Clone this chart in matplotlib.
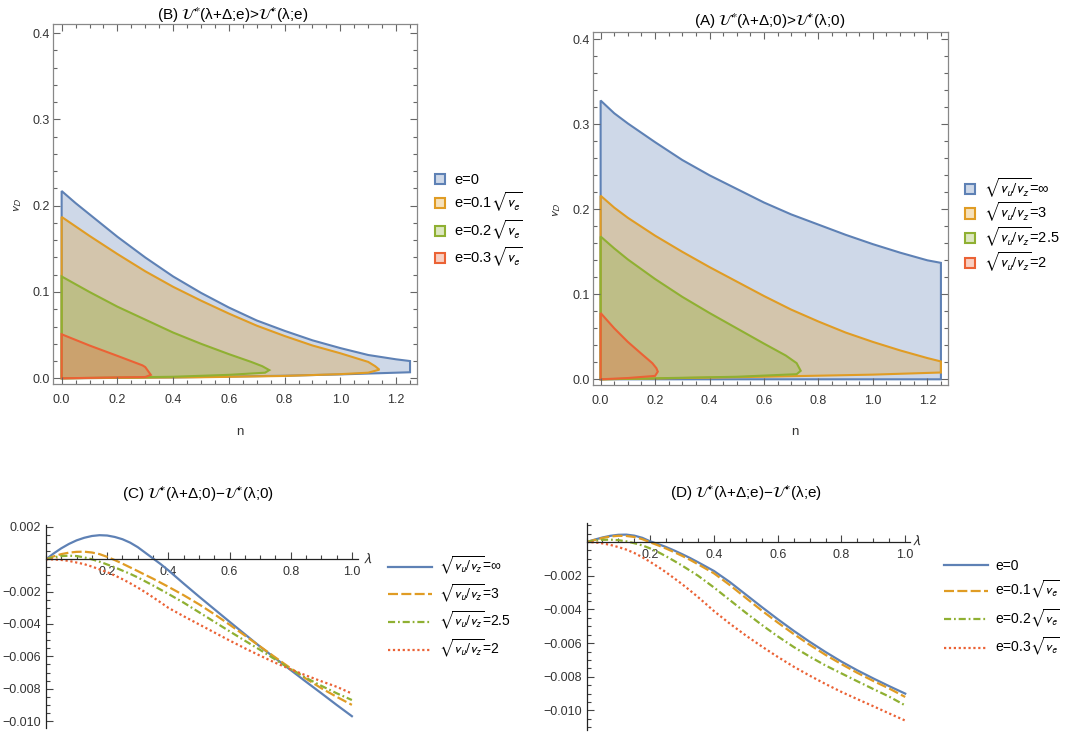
import numpy as np
import matplotlib.pyplot as plt
from matplotlib.colors import to_rgba
from matplotlib.ticker import MultipleLocator, FixedLocator, FuncFormatter

plt.rcParams['font.family'] = ['Liberation Sans', 'DejaVu Sans']
plt.rcParams['mathtext.fontset'] = 'stixsans'

colors = ['#5E81B5', '#E09C24', '#8FB032', '#EB6235']

# ---------- (B) regions, e = 0, 0.1, 0.2, 0.3 sqrt(v_e)
b_labels = ['e=0', r'e=0.1$\sqrt{v_e}$', r'e=0.2$\sqrt{v_e}$', r'e=0.3$\sqrt{v_e}$']
b_up_x = [[0, 0.05, 0.1, 0.2, 0.3, 0.4, 0.5, 0.6, 0.7, 0.8, 0.9, 1.0, 1.1, 1.2, 1.25],
          [0, 0.05, 0.1, 0.2, 0.3, 0.4, 0.5, 0.6, 0.7, 0.8, 0.9, 1.0, 1.05, 1.1, 1.125, 1.14],
          [0, 0.05, 0.1, 0.2, 0.3, 0.4, 0.5, 0.6, 0.68, 0.72, 0.745],
          [0, 0.1, 0.2, 0.29, 0.3, 0.32]]
b_up_y = [[0.217, 0.203, 0.190, 0.164, 0.140, 0.118, 0.099, 0.082, 0.067, 0.055, 0.044, 0.035, 0.027, 0.022, 0.020],
          [0.187, 0.176, 0.165, 0.144, 0.124, 0.106, 0.090, 0.075, 0.061, 0.049, 0.038, 0.029, 0.024, 0.019, 0.014, 0.010],
          [0.118, 0.109, 0.100, 0.083, 0.068, 0.053, 0.040, 0.028, 0.019, 0.014, 0.0095],
          [0.051, 0.038, 0.026, 0.015, 0.013, 0.004]]
b_lo_x = [[0, 0.4, 0.8, 1.0, 1.25],
          [0, 0.5, 0.8, 1.0, 1.1, 1.14],
          [0, 0.4, 0.6, 0.73, 0.745],
          [0, 0.3, 0.32]]
b_lo_y = [[0, 0.0010, 0.0030, 0.0045, 0.0070],
          [0, 0.0012, 0.0027, 0.0048, 0.0065, 0.010],
          [0, 0.0018, 0.0040, 0.0065, 0.0095],
          [0, 0.0015, 0.004]]

# ---------- (A) regions, sqrt(v_u/v_z) = inf, 3, 2.5, 2
a_labels = [r'$\sqrt{v_u/v_z}$=∞', r'$\sqrt{v_u/v_z}$=3',
            r'$\sqrt{v_u/v_z}$=2.5', r'$\sqrt{v_u/v_z}$=2']
a_up_x = [[0, 0.05, 0.1, 0.2, 0.3, 0.4, 0.5, 0.6, 0.7, 0.8, 0.9, 1.0, 1.1, 1.2, 1.25],
          [0, 0.05, 0.1, 0.2, 0.3, 0.4, 0.5, 0.6, 0.7, 0.8, 0.9, 1.0, 1.1, 1.2, 1.25],
          [0, 0.05, 0.1, 0.2, 0.3, 0.4, 0.5, 0.6, 0.68, 0.72, 0.735],
          [0, 0.05, 0.1, 0.15, 0.19, 0.205, 0.21]]
a_up_y = [[0.328, 0.313, 0.301, 0.279, 0.258, 0.240, 0.224, 0.208, 0.194, 0.182, 0.170, 0.159, 0.149, 0.140, 0.137],
          [0.216, 0.202, 0.190, 0.169, 0.150, 0.132, 0.115, 0.098, 0.082, 0.068, 0.055, 0.044, 0.034, 0.025, 0.021],
          [0.168, 0.154, 0.141, 0.118, 0.097, 0.078, 0.060, 0.042, 0.028, 0.019, 0.010],
          [0.078, 0.060, 0.044, 0.030, 0.019, 0.013, 0.009]]
a_lo_x = [[0, 1.25],
          [0, 0.6, 1.0, 1.25],
          [0, 0.25, 0.5, 0.72, 0.735],
          [0, 0.1, 0.2, 0.21]]
a_lo_y = [[0, 0],
          [0, 0.003, 0.0055, 0.008],
          [0, 0.0015, 0.003, 0.006, 0.010],
          [0, 0.0015, 0.004, 0.009]]

# ---------- (C) and (D) curves
lam = [0, 0.025, 0.05, 0.075, 0.1, 0.125, 0.15, 0.175, 0.2, 0.225, 0.25, 0.275, 0.3,
       0.325, 0.35, 0.375, 0.4, 0.45, 0.5, 0.55, 0.6, 0.65, 0.7, 0.75, 0.8, 0.85, 0.9, 0.95, 1.0]
c_vals = [
    [0, 0.00036, 0.00068, 0.00095, 0.00117, 0.00133, 0.00144, 0.00149, 0.00147, 0.00138, 0.00124,
     0.00103, 0.00075, 0.0004, 0.00005, -0.0003, -0.00068,
     -0.0015, -0.0023, -0.00308, -0.00386, -0.00463, -0.0054, -0.00612, -0.00685, -0.00757, -0.00828, -0.009, -0.0097],
    [0, 0.00018, 0.00032, 0.00041, 0.00046, 0.00047, 0.00042, 0.00032, 0.00015, -0.00005, -0.00027,
     -0.0005, -0.00073, -0.00097, -0.0012, -0.00145, -0.0017,
     -0.00222, -0.00278, -0.00339, -0.00404, -0.00471, -0.00539, -0.00607, -0.00674, -0.00738, -0.00797, -0.0085, -0.0090],
    [0, 0.00012, 0.0002, 0.00022, 0.0002, 0.00012, 0.0, -0.00015, -0.00032, -0.0005, -0.0007,
     -0.0009, -0.00112, -0.00137, -0.00162, -0.00188, -0.00214,
     -0.00268, -0.00327, -0.00386, -0.00445, -0.00503, -0.0056, -0.0062, -0.0068, -0.00733, -0.00782, -0.00828, -0.0087],
    [0, -0.00001, -0.00004, -0.0001, -0.0002, -0.0003, -0.00045, -0.00062, -0.0008, -0.001, -0.00123,
     -0.00148, -0.00175, -0.00204, -0.00235, -0.00267, -0.003,
     -0.00352, -0.00402, -0.00452, -0.00502, -0.0055, -0.00596, -0.0064, -0.0068, -0.00718, -0.00754, -0.00788, -0.0083]]
d_vals = [
    [0, 0.00014, 0.00027, 0.00037, 0.00043, 0.00044, 0.00038, 0.00025, 0.00004, -0.00012, -0.0003,
     -0.0005, -0.00072, -0.00095, -0.0012, -0.00146, -0.00172,
     -0.00238, -0.00312, -0.00386, -0.00458, -0.00527, -0.00592, -0.00653, -0.0071, -0.00762, -0.0081, -0.00856, -0.0090],
    [0, 0.00012, 0.00024, 0.00033, 0.00037, 0.00036, 0.0003, 0.00017, -0.00002, -0.0002, -0.00039,
     -0.0006, -0.00082, -0.00106, -0.00132, -0.00159, -0.00186,
     -0.00256, -0.00332, -0.00407, -0.00478, -0.00546, -0.0061, -0.0067, -0.00725, -0.00777, -0.00825, -0.0087, -0.0092],
    [0, 0.00008, 0.00013, 0.00014, 0.00011, 0.00004, -0.00007, -0.0002, -0.00038, -0.0006, -0.00085,
     -0.00112, -0.0014, -0.0017, -0.002, -0.00235, -0.0027,
     -0.00345, -0.0042, -0.00492, -0.0056, -0.00623, -0.0068, -0.00733, -0.0078, -0.00827, -0.00873, -0.00918, -0.0097],
    [0, -0.00002, -0.00008, -0.00017, -0.0003, -0.00045, -0.00065, -0.0009, -0.00118, -0.00148, -0.0018,
     -0.00215, -0.0025, -0.00288, -0.00327, -0.00368, -0.0041,
     -0.00485, -0.00555, -0.0062, -0.00682, -0.0074, -0.00793, -0.00843, -0.0089, -0.00933, -0.00975, -0.01018, -0.0106]]
c_labels = a_labels
d_labels = b_labels

styles = [dict(ls='-'), dict(dashes=(4.5, 1.5)),
          dict(dashes=(3.2, 1.3, 0.8, 1.3)), dict(dashes=(1.0, 1.2))]

W, H = 1070, 736
fig = plt.figure(figsize=(W / 100, H / 100), dpi=100)
tc = '#333333'


def fmt(decimals):
    return FuncFormatter(lambda v, p: f'{v:.{decimals}f}'.replace('-', '\u2212'))


def frame_axes(rect, xlim, ylim):
    ax = fig.add_axes(rect)
    ax.set_xlim(*xlim)
    ax.set_ylim(*ylim)
    ax.xaxis.set_major_locator(MultipleLocator(0.2))
    ax.xaxis.set_minor_locator(MultipleLocator(0.05))
    ax.yaxis.set_major_locator(MultipleLocator(0.1))
    ax.yaxis.set_minor_locator(MultipleLocator(0.02))
    ax.xaxis.set_major_formatter(fmt(1))
    ax.yaxis.set_major_formatter(fmt(1))
    ax.tick_params(which='both', direction='in', top=True, right=True,
                   labelsize=9, labelcolor=tc, color='#666666', width=0.8)
    ax.tick_params(which='major', length=5)
    ax.tick_params(which='minor', length=3)
    ax.tick_params(axis='x', pad=7.5)
    ax.tick_params(axis='y', pad=2)
    for s in ax.spines.values():
        s.set_color('#888888')
        s.set_linewidth(0.9)
    return ax


def region(ax, ux, uy, lx, ly, c, label):
    x = list(ux) + list(lx)[::-1]
    y = list(uy) + list(ly)[::-1]
    return ax.fill(x, y, facecolor=to_rgba(c, 0.3), edgecolor=c, lw=1.5, label=label)[0]


def curve_axes(rect, xlim, ylim, yticks):
    ax = fig.add_axes(rect)
    ax.set_xlim(*xlim)
    ax.set_ylim(*ylim)
    for s in ['top', 'right']:
        ax.spines[s].set_visible(False)
    ax.spines['left'].set_position(('data', 0))
    ax.spines['bottom'].set_position(('data', 0))
    for s in ['left', 'bottom']:
        ax.spines[s].set_color('#222222')
        ax.spines[s].set_linewidth(0.9)
    ax.xaxis.set_major_locator(FixedLocator([0.2, 0.4, 0.6, 0.8, 1.0]))
    ax.xaxis.set_minor_locator(MultipleLocator(0.05))
    ax.yaxis.set_major_locator(FixedLocator(yticks))
    ax.yaxis.set_minor_locator(MultipleLocator(0.0005))
    ax.xaxis.set_major_formatter(fmt(1))
    ax.yaxis.set_major_formatter(fmt(3))
    ax.tick_params(which='both', direction='in', labelsize=9, labelcolor=tc,
                   color='#444444', width=0.8)
    ax.tick_params(which='major', length=5)
    ax.tick_params(which='minor', length=3)
    ax.tick_params(axis='x', pad=5)
    return ax


leg_kw = dict(bbox_transform=fig.transFigure, frameon=False, borderpad=0, borderaxespad=0,
              loc='upper left')

# (B)
axB = frame_axes([53 / W, 1 - 384 / H, 364 / W, 360 / H], (-0.031, 1.275), (-0.0066, 0.4105))
hB = [region(axB, b_up_x[i], b_up_y[i], b_lo_x[i], b_lo_y[i], colors[i], b_labels[i]) for i in range(4)]
axB.legend(handles=hB, bbox_to_anchor=(435 / W, 1 - 173 / H), fontsize=10.5,
           handlelength=0.7, handleheight=0.7, handletextpad=0.6, labelspacing=0.25, **leg_kw)
fig.text(233 / W, 1 - 15 / H, r'(B) $\mathcal{U}^{*}$(λ+Δ;e)>$\mathcal{U}^{*}$(λ;e)',
         ha='center', va='center', fontsize=11)
fig.text(240 / W, 1 - 432 / H, 'n', ha='center', va='center', fontsize=9.5, color=tc)
fig.text(18 / W, 1 - 205 / H, r'$v_D$', ha='center', va='center', rotation=90, fontsize=9.5, color=tc)

# (A)
axA = frame_axes([593 / W, 1 - 385 / H, 355 / W, 353 / H], (-0.028, 1.276), (-0.0067, 0.4086))
hA = [region(axA, a_up_x[i], a_up_y[i], a_lo_x[i], a_lo_y[i], colors[i], a_labels[i]) for i in range(4)]
axA.legend(handles=hA, bbox_to_anchor=(965 / W, 1 - 176 / H), fontsize=10.5,
           handlelength=0.7, handleheight=0.7, handletextpad=0.6, labelspacing=0.08, **leg_kw)
fig.text(770 / W, 1 - 21 / H, r'(A) $\mathcal{U}^{*}$(λ+Δ;0)>$\mathcal{U}^{*}$(λ;0)',
         ha='center', va='center', fontsize=11)
fig.text(795 / W, 1 - 432 / H, 'n', ha='center', va='center', fontsize=9.5, color=tc)
fig.text(557 / W, 1 - 210 / H, r'$v_D$', ha='center', va='center', rotation=90, fontsize=9.5, color=tc)

# (C)
axC = curve_axes([46 / W, 1 - 728 / H, 312 / W, 203 / H], (0, 1.02), (-0.01043, 0.00212),
                 [0.002, -0.002, -0.004, -0.006, -0.008, -0.010])
hC = [axC.plot(lam, c_vals[i], color=colors[i], lw=1.6, label=c_labels[i], **styles[i])[0]
      for i in range(4)]
axC.legend(handles=hC, bbox_to_anchor=(388 / W, 1 - 555 / H), fontsize=10,
           handlelength=3.2, handletextpad=0.5, labelspacing=0.4, **leg_kw)
fig.text(198 / W, 1 - 494 / H, r'(C) $\mathcal{U}^{*}$(λ+Δ;0)−$\mathcal{U}^{*}$(λ;0)',
         ha='center', va='center', fontsize=11)
fig.text(368 / W, 1 - 558 / H, r'$\lambda$', ha='center', va='center', fontsize=10.5, color=tc)

# (D)
axD = curve_axes([586.5 / W, 1 - 730 / H, 323.5 / W, 207 / H], (0, 1.015), (-0.01116, 0.00113),
                 [-0.002, -0.004, -0.006, -0.008, -0.010])
hD = [axD.plot(lam, d_vals[i], color=colors[i], lw=1.6, label=d_labels[i], **styles[i])[0]
      for i in range(4)]
axD.legend(handles=hD, bbox_to_anchor=(944 / W, 1 - 559 / H), fontsize=10,
           handlelength=3.2, handletextpad=0.5, labelspacing=0.46, **leg_kw)
fig.text(746 / W, 1 - 493 / H, r'(D) $\mathcal{U}^{*}$(λ+Δ;e)−$\mathcal{U}^{*}$(λ;e)',
         ha='center', va='center', fontsize=11)
fig.text(917 / W, 1 - 540 / H, r'$\lambda$', ha='center', va='center', fontsize=10.5, color=tc)

fig.savefig('out.png', dpi=100)
